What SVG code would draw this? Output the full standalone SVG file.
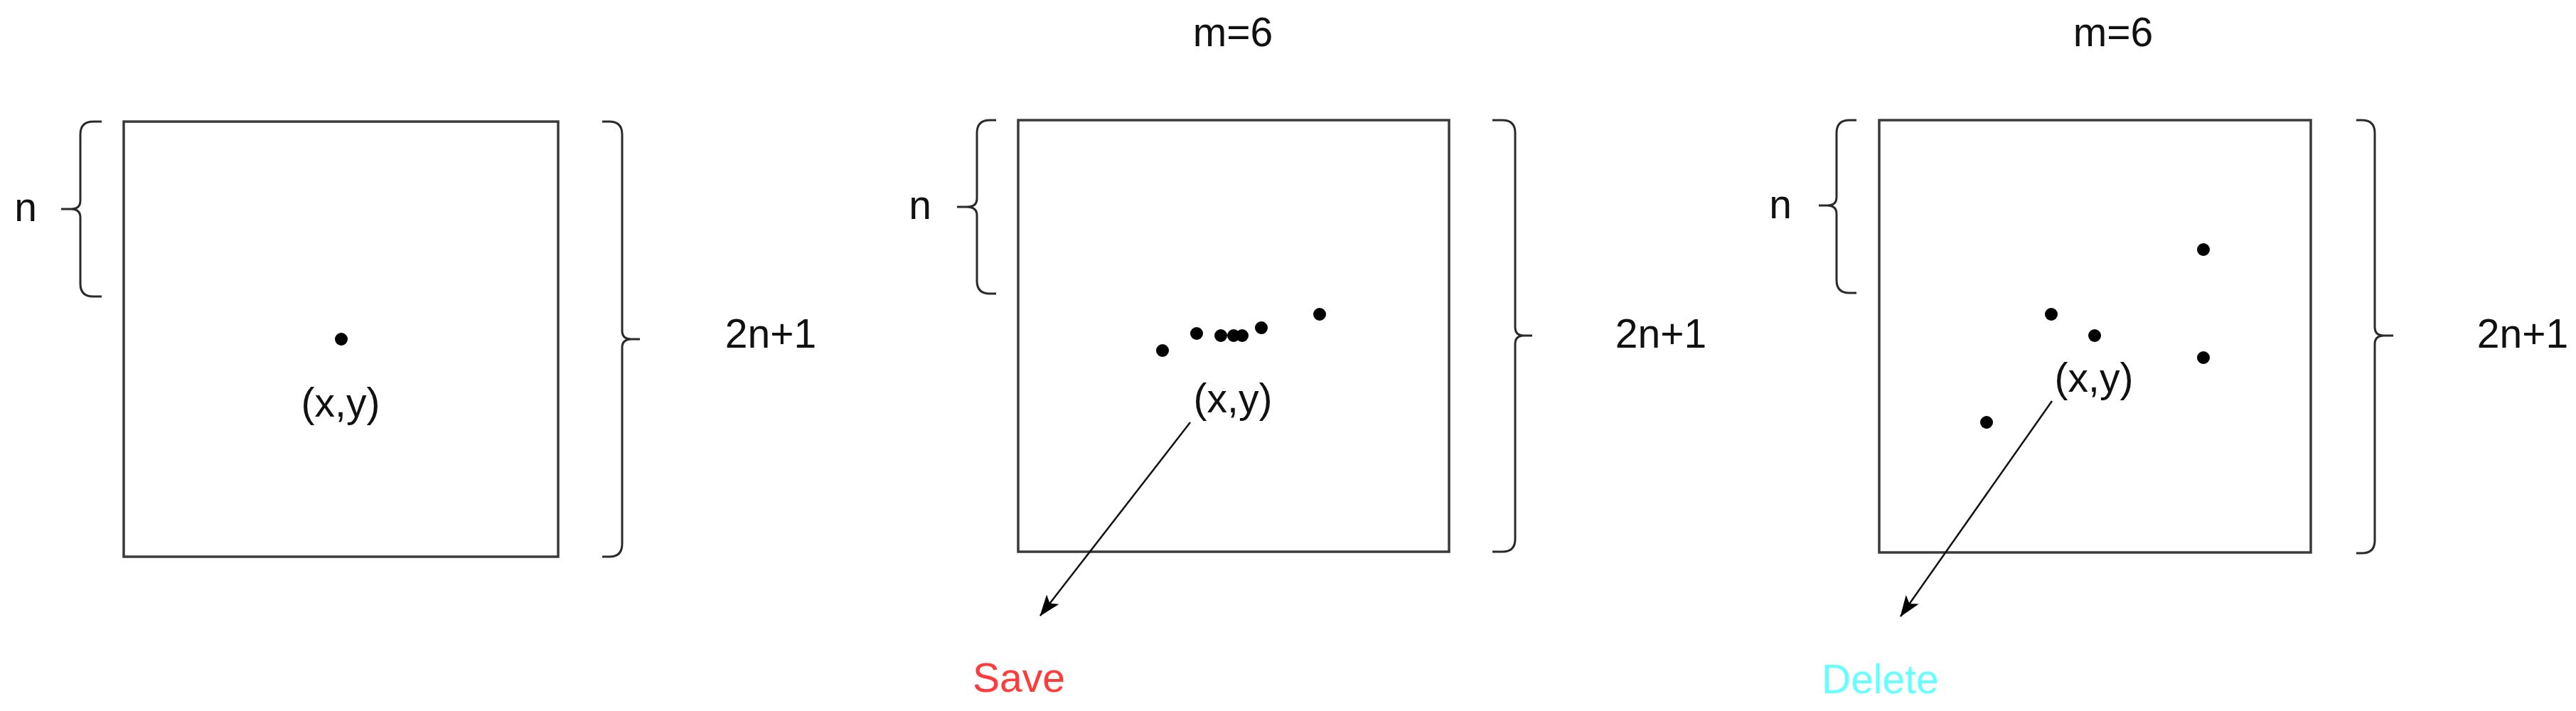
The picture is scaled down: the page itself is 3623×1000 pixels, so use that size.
<svg xmlns="http://www.w3.org/2000/svg" width="3623" height="1000" viewBox="0 0 3623 1000">
<style>
.box{fill:none;stroke:#3a3a3a;stroke-width:3.5}
.brace{fill:none;stroke:#2a2a2a;stroke-width:3}
.dot{fill:#000}
.t{font-family:"Liberation Sans",Arial,sans-serif;font-size:57px;fill:#111}
.save{fill:#ff3b3b}
.del{fill:#66ffff}
.conn{stroke:#111;stroke-width:2.5;fill:none}
</style>
<defs>
<marker id="ah" viewBox="0 0 30 22" refX="29" refY="11" markerWidth="30" markerHeight="22" markerUnits="userSpaceOnUse" orient="auto">
<path d="M0,0 L30,11 L0,22 L7,11 z" fill="#000"/>
</marker>
</defs>
<rect width="3623" height="1000" fill="#fff"/>

<g id="panel1">
<rect class="box" x="174" y="171" width="611" height="612"/>
<path class="brace" d="M143,171 L131,171 Q113,171 113,189 L113,282 Q113,294 100,294 L86,294 M100,294 Q113,294 113,306 L113,399 Q113,417 131,417 L143,417"/>
<path class="brace" d="M847,171 L857,171 Q875,171 875,189 L875,465 Q875,477 888,477 L900,477 M888,477 Q875,477 875,489 L875,765 Q875,783 857,783 L847,783"/>
<text class="t" x="36" y="311" text-anchor="middle">n</text>
<text class="t" x="1084" y="489" text-anchor="middle">2n+1</text>
<circle class="dot" cx="480" cy="477" r="9"/>
<text class="t" x="479" y="586" text-anchor="middle">(x,y)</text>
</g>

<g id="panel2">
<rect class="box" x="1432" y="169" width="606" height="607"/>
<path class="brace" d="M1401,169 L1392,169 Q1374,169 1374,187 L1374,279 Q1374,291 1360,291 L1346,291 M1360,291 Q1374,291 1374,303 L1374,395 Q1374,413 1392,413 L1401,413"/>
<path class="brace" d="M2099,169 L2113,169 Q2131,169 2131,187 L2131,460 Q2131,472 2143,472 L2155,472 M2143,472 Q2131,472 2131,484 L2131,758 Q2131,776 2113,776 L2099,776"/>
<text class="t" x="1294" y="308" text-anchor="middle">n</text>
<text class="t" x="2336" y="489" text-anchor="middle">2n+1</text>
<text class="t" x="1734" y="65" text-anchor="middle">m=6</text>
<circle class="dot" cx="1635" cy="493" r="9"/>
<circle class="dot" cx="1683" cy="469" r="9"/>
<circle class="dot" cx="1717" cy="472" r="9"/>
<circle class="dot" cx="1735" cy="472" r="9"/>
<circle class="dot" cx="1747" cy="472" r="9"/>
<circle class="dot" cx="1774" cy="461" r="9"/>
<circle class="dot" cx="1856" cy="442" r="9"/>
<text class="t" x="1734" y="580" text-anchor="middle">(x,y)</text>
<text class="t save" x="1368" y="973">Save</text>
</g>

<g id="panel3">
<rect class="box" x="2643" y="169" width="607" height="608"/>
<path class="brace" d="M2611,169 L2601,169 Q2583,169 2583,187 L2583,277 Q2583,289 2570,289 L2558,289 M2570,289 Q2583,289 2583,301 L2583,394 Q2583,412 2601,412 L2611,412"/>
<path class="brace" d="M3314,169 L3322,169 Q3340,169 3340,187 L3340,460 Q3340,472 3353,472 L3366,472 M3353,472 Q3340,472 3340,484 L3340,760 Q3340,778 3322,778 L3314,778"/>
<text class="t" x="2504" y="307" text-anchor="middle">n</text>
<text class="t" x="3548" y="489" text-anchor="middle">2n+1</text>
<text class="t" x="2972" y="65" text-anchor="middle">m=6</text>
<circle class="dot" cx="3099" cy="351" r="9"/>
<circle class="dot" cx="2885" cy="442" r="9"/>
<circle class="dot" cx="2946" cy="472" r="9"/>
<circle class="dot" cx="3099" cy="503" r="9"/>
<circle class="dot" cx="2794" cy="594" r="9"/>
<text class="t" x="2945" y="551" text-anchor="middle">(x,y)</text>
<text class="t del" x="2562" y="975">Delete</text>
</g>

<g id="connectors">
<line class="conn" x1="1674" y1="594" x2="1463" y2="866" marker-end="url(#ah)"/>
<line class="conn" x1="2886" y1="564" x2="2673" y2="867" marker-end="url(#ah)"/>
</g>
</svg>
